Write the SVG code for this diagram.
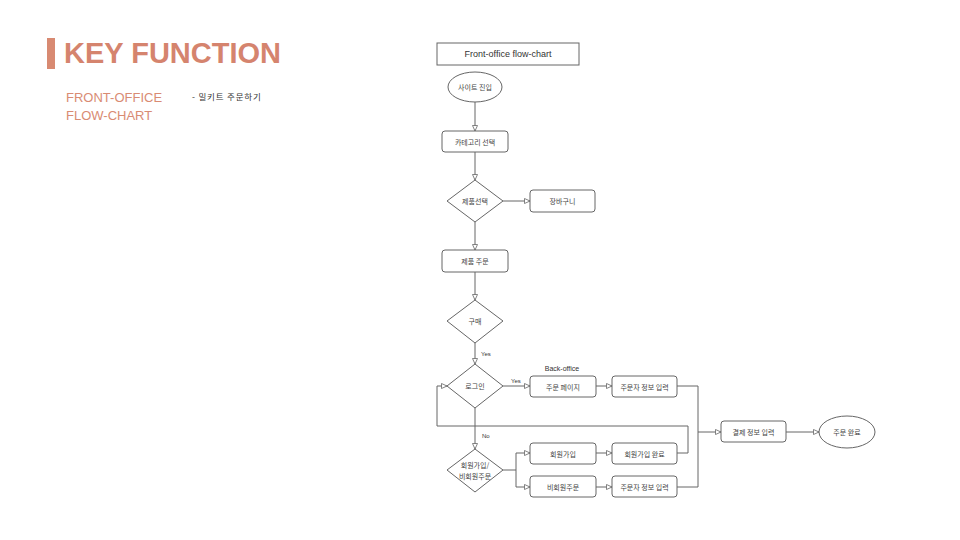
<svg xmlns="http://www.w3.org/2000/svg" width="960" height="540" viewBox="0 0 960 540">
<defs>
<style>
.n{fill:#fff;stroke:#666;stroke-width:1}
.t{font-family:"Noto Sans CJK KR","Liberation Sans",sans-serif;font-size:7px;fill:#444;text-anchor:middle;dominant-baseline:central}
.l{font-family:"Liberation Sans",sans-serif;font-size:6px;fill:#333}
.c{fill:none;stroke:#666;stroke-width:1}
</style>
<marker id="a" markerUnits="userSpaceOnUse" markerWidth="8" markerHeight="8" refX="6" refY="3" orient="auto">
<path d="M0.5,0.5 L6,3 L0.5,5.5 Z" fill="#fff" stroke="#666" stroke-width="0.8"/>
</marker>
</defs>
<rect width="960" height="540" fill="#fff"/>
<g id="header">
<rect x="47" y="38" width="8" height="31" fill="#d88a72"/>
<text x="64" y="63" font-family="Liberation Sans,sans-serif" font-size="29" font-weight="bold" fill="#d5846e">KEY FUNCTION</text>
<text x="66" y="102" font-family="Liberation Sans,sans-serif" font-size="13" fill="#d98b73">FRONT-OFFICE</text>
<text x="66" y="120" font-family="Liberation Sans,sans-serif" font-size="13" fill="#d98b73">FLOW-CHART</text>
<text x="192" y="100" font-family="Noto Sans CJK KR,Liberation Sans,sans-serif" font-size="8.5" letter-spacing="0.8" fill="#333">- 밀키트 주문하기</text>
</g>
<g id="connectors">
<line class="c" x1="475" y1="102" x2="475" y2="131" marker-end="url(#a)"/>
<line class="c" x1="475" y1="152" x2="475" y2="180" marker-end="url(#a)"/>
<line class="c" x1="503" y1="201" x2="530" y2="201" marker-end="url(#a)"/>
<line class="c" x1="475" y1="222" x2="475" y2="250" marker-end="url(#a)"/>
<line class="c" x1="475" y1="272" x2="475" y2="300" marker-end="url(#a)"/>
<line class="c" x1="475" y1="343" x2="475" y2="364" marker-end="url(#a)"/>
<text class="l" x="481" y="356">Yes</text>
<line class="c" x1="503" y1="386" x2="530" y2="386" marker-end="url(#a)"/>
<text class="l" x="511" y="383">Yes</text>
<line class="c" x1="596" y1="386" x2="612" y2="386" marker-end="url(#a)"/>
<polyline class="c" points="677,386 698,386 698,487 677,487"/>
<line class="c" x1="698" y1="432" x2="721" y2="432" marker-end="url(#a)"/>
<line class="c" x1="786" y1="432" x2="819" y2="432" marker-end="url(#a)"/>
<line class="c" x1="475" y1="408" x2="475" y2="449" marker-end="url(#a)"/>
<text class="l" x="482" y="438">No</text>
<polyline class="c" points="677,453 688,453 688,426 437,426 437,386 447,386" marker-end="url(#a)"/>
<polyline class="c" points="503,470 516,470 516,453 530,453" marker-end="url(#a)"/>
<polyline class="c" points="516,470 516,487 530,487" marker-end="url(#a)"/>
<line class="c" x1="596" y1="453" x2="612" y2="453" marker-end="url(#a)"/>
<line class="c" x1="596" y1="487" x2="612" y2="487" marker-end="url(#a)"/>
</g>
<g id="title"><rect class="n" x="437" y="43" width="142" height="22"/><text x="508" y="57" font-family="Liberation Sans,sans-serif" font-size="9" fill="#333" text-anchor="middle">Front-office flow-chart</text></g>
<g id="n1"><ellipse class="n" cx="475" cy="87" rx="27" ry="15"/><text class="t" x="475" y="87">사이트 진입</text></g>
<g id="n2"><rect class="n" x="442" y="131" width="66" height="21" rx="3"/><text class="t" x="475" y="141.5">카테고리 선택</text></g>
<g id="n3"><polygon class="n" points="475,180 503,201 475,222 447,201"/><text class="t" x="475" y="201">제품선택</text></g>
<g id="n4"><rect class="n" x="530" y="190" width="65" height="22" rx="3"/><text class="t" x="562.5" y="201">장바구니</text></g>
<g id="n5"><rect class="n" x="442" y="250" width="66" height="22" rx="3"/><text class="t" x="475" y="261">제품 주문</text></g>
<g id="n6"><polygon class="n" points="475,300 503,321 475,343 447,321"/><text class="t" x="475" y="321">구매</text></g>
<g id="n7"><polygon class="n" points="475,364 503,386 475,408 447,386"/><text class="t" x="475" y="386">로그인</text></g>
<g id="n8"><text class="l" x="562" y="371" text-anchor="middle" style="font-size:7px">Back-office</text><rect class="n" x="530" y="376" width="66" height="21" rx="3"/><text class="t" x="563" y="386.5">주문 페이지</text></g>
<g id="n9"><rect class="n" x="612" y="376" width="65" height="21" rx="3"/><text class="t" x="644.5" y="386.5">주문자 정보 입력</text></g>
<g id="n10"><rect class="n" x="721" y="421" width="65" height="21" rx="3"/><text class="t" x="753.5" y="431.5">결제 정보 입력</text></g>
<g id="n11"><ellipse class="n" cx="847" cy="432" rx="28" ry="16"/><text class="t" x="847" y="432">주문 완료</text></g>
<g id="n12"><polygon class="n" points="475,449 503,470 475,492 447,470"/><text class="t" x="475" y="465">회원가입/</text><text class="t" x="475" y="475.5">비회원주문</text></g>
<g id="n13"><rect class="n" x="530" y="443" width="66" height="21" rx="3"/><text class="t" x="563" y="453.5">회원가입</text></g>
<g id="n14"><rect class="n" x="612" y="443" width="65" height="21" rx="3"/><text class="t" x="644.5" y="453.5">회원가입 완료</text></g>
<g id="n15"><rect class="n" x="530" y="476" width="66" height="21" rx="3"/><text class="t" x="563" y="486.5">비회원주문</text></g>
<g id="n16"><rect class="n" x="612" y="476" width="65" height="21" rx="3"/><text class="t" x="644.5" y="486.5">주문자 정보 입력</text></g>
</svg>
